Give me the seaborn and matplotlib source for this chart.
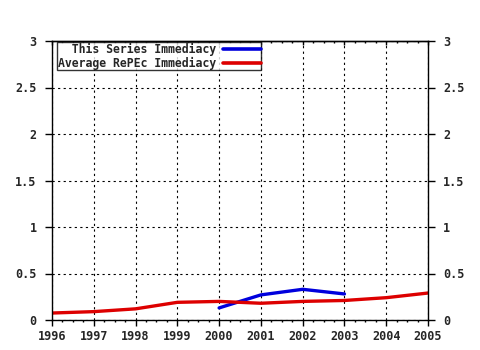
import pandas as pd
import matplotlib
matplotlib.use('Agg')
import matplotlib.pyplot as plt
import seaborn as sns
from matplotlib.ticker import MultipleLocator

# values
series_years = [2000, 2001, 2002, 2003]
series_vals = [0.13, 0.27, 0.33, 0.28]

avg_years = [1996, 1997, 1998, 1999, 2000, 2001, 2002, 2003, 2004, 2005]
avg_vals = [0.075, 0.09, 0.12, 0.19, 0.20, 0.18, 0.20, 0.21, 0.24, 0.29]

labels = ['This Series Immediacy', 'Average RePEc Immediacy']
y_ticks = [0, 0.5, 1, 1.5, 2, 2.5, 3]
y_ticklabels = ['0', '0.5', '1', '1.5', '2', '2.5', '3']

sns.set_style('white')
plt.rcParams['font.family'] = ['DejaVu Sans Mono']
plt.rcParams['font.weight'] = 'bold'

fig = plt.figure(figsize=(4.8, 3.5), dpi=100)
ax = fig.add_axes([52 / 480, 1 - 320 / 350, 376 / 480, 279 / 350])

width = max(len(s) for s in labels)
sns.lineplot(x=series_years, y=series_vals, color='#0000dd', linewidth=2.4,
             label=labels[0].rjust(width), ax=ax)
sns.lineplot(x=avg_years, y=avg_vals, color='#dd0000', linewidth=2.4,
             label=labels[1].rjust(width), ax=ax)

ax.set_xlim(1996, 2005)
ax.set_ylim(0, 3)
ax.set_xticks(avg_years)
ax.set_xticklabels([str(y) for y in avg_years], fontsize=8.5, fontweight='bold')
ax.xaxis.set_minor_locator(MultipleLocator(0.25))
ax.set_yticks(y_ticks)
ax.set_yticklabels(y_ticklabels, fontsize=8.5, fontweight='bold')

ax.grid(True, which='major', color='black', linestyle=(0, (2, 3)), linewidth=0.8)
for s in ax.spines.values():
    s.set_visible(True)
    s.set_color('black')
    s.set_linewidth(1)

# bottom ticks point out, top ticks point in
ax.tick_params(axis='x', which='both', direction='out', bottom=True, top=False,
               length=4, width=1, color='black', pad=3)
ax.tick_params(axis='x', which='minor', length=1.6)
top = ax.secondary_xaxis('top')
top.set_xticks(avg_years)
top.xaxis.set_minor_locator(MultipleLocator(0.25))
top.tick_params(axis='x', which='both', direction='in', labeltop=False,
                length=3, width=1, color='black')
top.tick_params(axis='x', which='minor', length=1.6)
top.spines['top'].set_linewidth(1)

ax.tick_params(axis='y', which='major', direction='out', left=True, right=True,
               labelleft=True, labelright=True, length=5, width=1, color='black', pad=6)

leg = ax.legend(loc='upper left', bbox_to_anchor=(57 / 480, 1 - 42 / 350),
                bbox_transform=fig.transFigure, markerfirst=False, frameon=True,
                fancybox=False,
                prop={'family': 'DejaVu Sans Mono', 'weight': 'bold', 'size': 8.3},
                borderpad=0.05, labelspacing=0.1, handlelength=3.3, handletextpad=0.6,
                borderaxespad=0)
leg.get_frame().set_edgecolor('black')
leg.get_frame().set_linewidth(1)
for h in leg.get_lines():
    h.set_linewidth(2.6)

ax.set_xlabel('')
ax.set_ylabel('')
fig.savefig('out.png', dpi=100, facecolor='white')
